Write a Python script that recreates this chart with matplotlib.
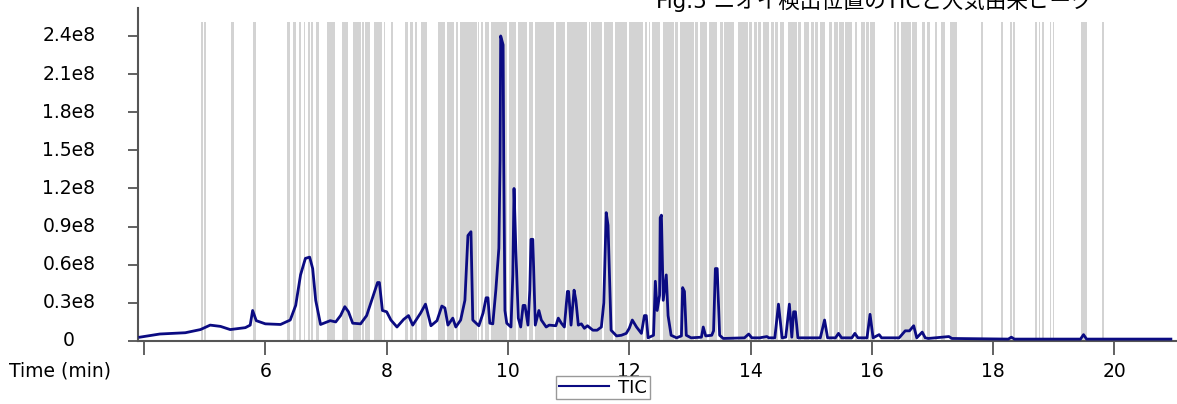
import matplotlib
matplotlib.use("Agg")
import matplotlib.pyplot as plt
from matplotlib.lines import Line2D
from matplotlib.transforms import blended_transform_factory

# TIC trace: (time in min, intensity in units of 1e7 counts)
tic_points = [
    (3.93, 0.30), (4.26, 0.55), (4.68, 0.65), (4.93, 0.90), (5.09, 1.25), (5.26, 1.15),
    (5.42, 0.90), (5.67, 1.05), (5.75, 1.25), (5.79, 2.40), (5.85, 1.60), (6.00, 1.35),
    (6.25, 1.30), (6.41, 1.65), (6.50, 2.80), (6.58, 5.20), (6.66, 6.50), (6.73, 6.60),
    (6.78, 5.70), (6.83, 3.20), (6.91, 1.30), (7.07, 1.60), (7.16, 1.50), (7.24, 2.00),
    (7.31, 2.70), (7.37, 2.30), (7.44, 1.40), (7.57, 1.35), (7.67, 2.00), (7.85, 4.60),
    (7.88, 4.60), (7.93, 2.40), (8.00, 2.30), (8.07, 1.65), (8.17, 1.10), (8.28, 1.70),
    (8.36, 2.00), (8.43, 1.25), (8.56, 2.20), (8.64, 2.90), (8.73, 1.20), (8.83, 1.60),
    (8.91, 2.75), (8.96, 2.60), (9.01, 1.25), (9.09, 1.80), (9.14, 1.10), (9.22, 1.65),
    (9.29, 3.20), (9.34, 8.30), (9.39, 8.60), (9.42, 1.65), (9.52, 1.20), (9.59, 2.20),
    (9.64, 3.40), (9.67, 3.40), (9.70, 1.40), (9.75, 1.35), (9.80, 4.00), (9.85, 7.30),
    (9.87, 14.2), (9.88, 24.0), (9.92, 23.3), (9.93, 14.2), (9.95, 2.40), (9.98, 1.40),
    (10.05, 1.10), (10.08, 5.20), (10.10, 12.0), (10.13, 7.20), (10.17, 1.80), (10.21, 1.10),
    (10.25, 2.80), (10.28, 2.80), (10.33, 1.25), (10.36, 4.00), (10.38, 8.00), (10.41, 8.00),
    (10.45, 1.25), (10.51, 2.40), (10.55, 1.65), (10.63, 1.10), (10.68, 1.25), (10.79, 1.20),
    (10.83, 1.80), (10.88, 1.40), (10.93, 1.10), (10.98, 3.90), (11.00, 3.90), (11.04, 1.25),
    (11.09, 4.00), (11.12, 3.20), (11.16, 1.25), (11.21, 1.35), (11.26, 1.00), (11.31, 1.20),
    (11.40, 0.85), (11.47, 0.85), (11.54, 1.10), (11.58, 3.00), (11.62, 10.1), (11.65, 9.10),
    (11.70, 0.85), (11.79, 0.40), (11.87, 0.45), (11.95, 0.60), (12.00, 1.00), (12.05, 1.65),
    (12.12, 1.10), (12.20, 0.60), (12.25, 2.00), (12.28, 2.00), (12.31, 0.25), (12.40, 0.45),
    (12.43, 4.70), (12.46, 2.40), (12.50, 3.60), (12.51, 9.70), (12.53, 9.90), (12.56, 3.20),
    (12.61, 5.20), (12.64, 2.00), (12.69, 0.45), (12.78, 0.25), (12.86, 0.40), (12.88, 4.20),
    (12.91, 3.90), (12.94, 0.45), (13.02, 0.25), (13.19, 0.30), (13.22, 1.10), (13.26, 0.40),
    (13.36, 0.45), (13.39, 0.80), (13.42, 5.70), (13.45, 5.70), (13.49, 0.45), (13.55, 0.20),
    (13.90, 0.25), (13.97, 0.55), (14.02, 0.25), (14.15, 0.25), (14.27, 0.35), (14.30, 0.25),
    (14.40, 0.25), (14.46, 2.90), (14.52, 0.25), (14.58, 0.30), (14.64, 2.90), (14.68, 0.30),
    (14.71, 2.30), (14.74, 2.30), (14.78, 0.25), (14.90, 0.25), (15.15, 0.25), (15.22, 1.65),
    (15.27, 0.25), (15.40, 0.25), (15.45, 0.60), (15.50, 0.25), (15.67, 0.25), (15.72, 0.60),
    (15.77, 0.25), (15.92, 0.25), (15.97, 2.10), (16.02, 0.25), (16.12, 0.50), (16.16, 0.25),
    (16.45, 0.25), (16.55, 0.80), (16.62, 0.80), (16.69, 1.20), (16.74, 0.25), (16.83, 0.70),
    (16.88, 0.25), (16.93, 0.20), (17.27, 0.35), (17.32, 0.20), (18.25, 0.15), (18.30, 0.30),
    (18.35, 0.15), (19.44, 0.15), (19.49, 0.50), (19.54, 0.15), (20.93, 0.15),
]
tic_time = [p[0] for p in tic_points]
tic_value = [p[1] * 1e7 for p in tic_points]

# detected-peak windows (start, end) in minutes, shaded grey
band_start = [4.94, 4.99, 5.44, 5.79, 6.36, 6.46, 6.55, 6.63, 6.71, 6.76, 6.84, 7.02,
              7.27, 7.44, 7.59, 7.64, 7.79, 7.95, 8.07, 8.31, 8.38, 8.46, 8.56,
              8.84, 8.99, 9.14, 9.21, 9.51, 9.55, 9.62, 9.72, 10.02, 10.17, 10.35,
              10.45, 10.79, 10.98, 11.33, 11.37, 11.59, 11.77, 12.00, 12.26, 12.33,
              12.38, 12.55, 12.76, 12.84, 13.09, 13.17, 13.32, 13.49, 13.57,
              13.80, 13.97, 14.05, 14.13, 14.20, 14.33, 14.40, 14.48, 14.61, 14.79,
              14.88, 14.99, 15.07, 15.14, 15.29, 15.37, 15.45, 15.55, 15.72, 15.82,
              15.90, 15.97, 16.36, 16.41, 16.48, 16.66, 16.83, 16.91, 17.04, 17.14,
              17.29, 17.80, 18.13, 18.28, 18.33, 18.69, 18.76, 18.81, 18.93, 18.98,
              19.45, 19.80]
band_end = [4.97, 5.02, 5.49, 5.85, 6.41, 6.50, 6.58, 6.66, 6.74, 6.79, 6.89, 7.14,
            7.36, 7.57, 7.62, 7.72, 7.93, 7.98, 8.10, 8.36, 8.43, 8.50, 8.66,
            8.96, 9.11, 9.17, 9.49, 9.53, 9.59, 9.69, 9.98, 10.13, 10.31, 10.41,
            10.76, 10.94, 11.31, 11.35, 11.55, 11.74, 11.97, 12.23, 12.30, 12.35,
            12.51, 12.73, 12.81, 13.06, 13.14, 13.29, 13.45, 13.54, 13.72,
            13.95, 14.02, 14.10, 14.18, 14.31, 14.38, 14.46, 14.55, 14.76, 14.83,
            14.96, 15.04, 15.12, 15.22, 15.34, 15.44, 15.54, 15.67, 15.75, 15.88,
            15.95, 16.05, 16.40, 16.45, 16.64, 16.74, 16.88, 16.96, 17.07, 17.21,
            17.40, 17.83, 18.17, 18.31, 18.36, 18.73, 18.78, 18.84, 18.96, 19.01,
            19.55, 19.83]

y_ticks = [0, 0.3e8, 0.6e8, 0.9e8, 1.2e8, 1.5e8, 1.8e8, 2.1e8, 2.4e8]
y_labels = ["0", "0.3e8", "0.6e8", "0.9e8", "1.2e8", "1.5e8", "1.8e8", "2.1e8", "2.4e8"]
x_ticks = [4, 6, 8, 10, 12, 14, 16, 18, 20]
x_labels = ["", "6", "8", "10", "12", "14", "16", "18", "20"]

title = "Fig.5 ニオイ検出位置のTICと大気由来ピーク"

plt.rcParams['font.family'] = ['DejaVu Sans', 'Noto Sans CJK JP']

fig = plt.figure(figsize=(11.77, 4.04), dpi=100)
ax = fig.add_axes([138 / 1177, 63 / 404, 1 - 138 / 1177 + 0.002, 333 / 404])

band_top = 2.51e8
widths = [e - s for s, e in zip(band_start, band_end)]
ax.bar(band_start, [band_top] * len(band_start), width=widths, align='edge',
       color='#d3d3d3', linewidth=0, zorder=1)

ax.plot(tic_time, tic_value, color='#0b0b82', linewidth=2.0, zorder=3)

ax.set_xlim(3.90, 21.07)
ax.set_ylim(0, 2.62e8)

# y labels are centred in a column left of the axis
ax.set_yticks(y_ticks)
ax.set_yticklabels([])
ylab_tf = blended_transform_factory(fig.transFigure, ax.transData)
for val, lab in zip(y_ticks, y_labels):
    ax.text(69 / 1177, val, lab, transform=ylab_tf, fontsize=13.5,
            ha='center', va='center', clip_on=False)

ax.set_xticks(x_ticks)
ax.set_xticklabels(x_labels, fontsize=13.5)
ax.tick_params(axis='y', length=7, width=1.3, color='#555555')
ax.tick_params(axis='x', length=10, width=1.3, color='#555555', pad=5)

for side in ['top', 'right']:
    ax.spines[side].set_visible(False)
for side in ['left', 'bottom']:
    ax.spines[side].set_color('#555555')
    ax.spines[side].set_linewidth(1.5)

fig.text(60 / 1177, 1 - 371 / 404, "Time (min)", fontsize=13.5, ha='center', va='center')
fig.text(874 / 1177, 1 - 7.5 / 404, title, fontsize=15.5, ha='center', va='baseline')

handle = Line2D([], [], color='#0b0b82', linewidth=1.5)
fig.legend([handle], ["TIC"], loc='upper center', bbox_to_anchor=(603 / 1177, 1 - 376 / 404),
           fontsize=13, frameon=True, fancybox=False, framealpha=1, edgecolor='#999999',
           handlelength=2.8, borderpad=0.15, handletextpad=0.5, borderaxespad=0)

fig.savefig("out.png", dpi=100)
